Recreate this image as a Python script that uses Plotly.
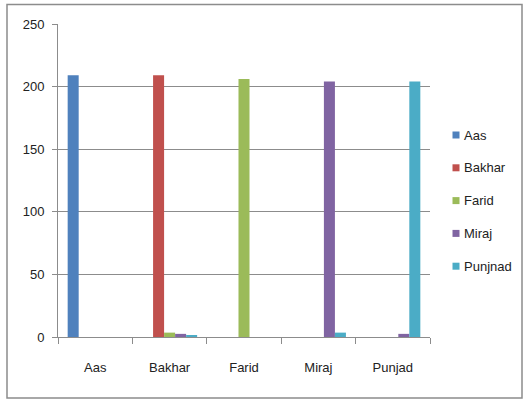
import plotly.graph_objects as go

categories = ["Aas", "Bakhar", "Farid", "Miraj", "Punjad"]
series_names = ["Aas", "Bakhar", "Farid", "Miraj", "Punjnad"]
aas = [209, 0, 0, 0, 0]
bakhar = [0, 209, 0, 0, 0]
farid = [0, 3.5, 206, 0, 0]
miraj = [0, 2.5, 0, 204, 2.5]
punjnad = [0, 1.5, 0, 3.5, 204]
colors = ["#4F81BD", "#C0504D", "#9BBB59", "#8064A2", "#4BACC6"]

values = [aas, bakhar, farid, miraj, punjnad]

W, H = 525, 400
ML, MR, MT, MB = 58, 95, 24, 63
PW, PH = W - ML - MR, H - MT - MB


def px_x(px):
    return (px - ML) / PW


def px_y(py):
    return (H - MB - py) / PH


fig = go.Figure()
for name, vals, col in zip(series_names, values, colors):
    fig.add_trace(go.Bar(
        x=categories, y=vals, name=name, marker=dict(color=col, line=dict(width=0)),
        showlegend=False,
    ))

font_family = "Liberation Sans, Arial, sans-serif"

# Legend drawn as small squares with labels to the right of the plot
shapes = [dict(type="rect", xref="paper", yref="paper",
               x0=px_x(7), x1=px_x(522), y0=px_y(398), y1=px_y(4.5),
               line=dict(color="#8c8c8c", width=1.5))]
annotations = []
legend_top, legend_step = 135, 32.8
for i, (name, col) in enumerate(zip(series_names, colors)):
    cy = legend_top + i * legend_step
    shapes.append(dict(type="rect", xref="paper", yref="paper",
                       x0=px_x(452.5), x1=px_x(459.5), y0=px_y(cy + 3.5), y1=px_y(cy - 3.5),
                       fillcolor=col, line=dict(width=0)))
    annotations.append(dict(xref="paper", yref="paper", x=px_x(462), y=px_y(cy),
                            xanchor="left", yanchor="middle", text=name, showarrow=False,
                            font=dict(size=13, color="#222222", family=font_family)))

fig.update_layout(
    width=W, height=H,
    margin=dict(l=ML, r=MR, t=MT, b=MB),
    paper_bgcolor="white", plot_bgcolor="white",
    barmode="group", bargap=0.26, bargroupgap=0,
    font=dict(family=font_family, size=13, color="#222222"),
    showlegend=False,
    xaxis=dict(showline=True, linecolor="#8c8c8c", linewidth=1,
               ticks="outside", tickson="boundaries", ticklen=6, tickcolor="#8c8c8c",
               showgrid=False, tickfont=dict(size=13), ticklabelstandoff=18),
    yaxis=dict(range=[0, 250], dtick=50, showline=True, linecolor="#8c8c8c", linewidth=1,
               ticks="outside", ticklen=5, tickcolor="#8c8c8c",
               showgrid=True, gridcolor="#8c8c8c", gridwidth=1, zeroline=False,
               tickfont=dict(size=13), ticklabelstandoff=5),
    shapes=shapes,
    annotations=annotations,
)

fig.write_html("out.html")
